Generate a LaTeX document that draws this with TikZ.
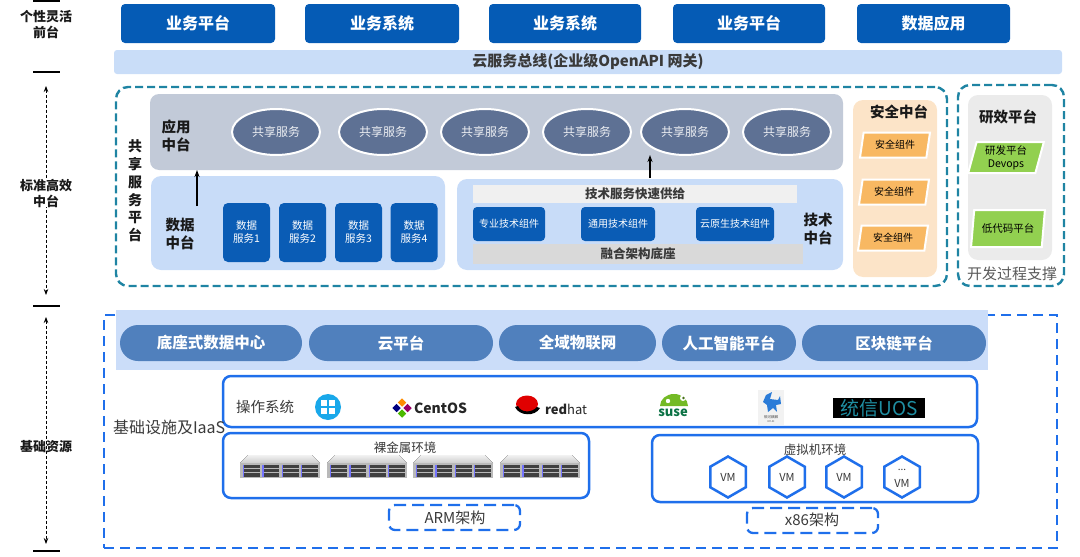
\documentclass[tikz,border=0pt]{standalone}
\usepackage{fontspec}
\setmainfont{Noto Sans CJK SC}
\usetikzlibrary{shapes.geometric,fit,arrows.meta,calc}
\newcommand\fsz[1]{\fontsize{#1}{#1}\selectfont}
\definecolor{dkblue}{HTML}{055BB5}
\definecolor{busblue}{HTML}{C9DDF8}
\definecolor{appgray}{HTML}{C2CAD8}
\definecolor{ellip}{HTML}{5E7194}
\definecolor{ltblue}{HTML}{C8DCF8}
\definecolor{compblue}{HTML}{0A5CB5}
\definecolor{tealc}{HTML}{1F84A3}
\definecolor{supgray}{HTML}{F0F0F0}
\definecolor{basegray}{HTML}{D9D9D9}
\definecolor{peach}{HTML}{FCE4C8}
\definecolor{orangec}{HTML}{F8B862}
\definecolor{rxgray}{HTML}{EBEBEB}
\definecolor{greenc}{HTML}{92D050}
\definecolor{botblue}{HTML}{1F6FEB}
\definecolor{bandc}{HTML}{CBDDF9}
\definecolor{pillc}{HTML}{5080BD}
\definecolor{txtgray}{HTML}{3A3A3A}
\definecolor{winblue}{HTML}{19A8EA}
\definecolor{rhred}{HTML}{E00000}
\definecolor{susegreen}{HTML}{73BA25}
\definecolor{susetext}{HTML}{0B7245}
\definecolor{uosteal}{HTML}{1F8FA3}
\definecolor{kyblue}{HTML}{2A7BD8}
\newcommand\server[1]{%
  \begin{scope}[shift={(#1,0)}]
    \fill[top color=gray!10, bottom color=gray!40] (8,455) -- (72,455) -- (80,463) -- (0,463) -- cycle;
    \fill[gray!55] (0,463) rectangle (80,478);
    \foreach \c in {0,1,2,3} \foreach \r in {0,1,2}
      \fill[black!75] (3+\c*19.3,464.5+\r*4.4) rectangle ++(17,3.3);
    \foreach \c in {0,1,2,3} \fill[blue!55] (3+\c*19.3,465) rectangle ++(1.4,12);
  \end{scope}}
\begin{document}
\begin{tikzpicture}[x=1pt,y=-1pt,
  every node/.style={inner sep=0pt,outer sep=0pt},
  topbox/.style={fill=dkblue,rounded corners=4pt,text=white,font=\fsz{16}\bfseries,minimum width=154pt,minimum height=39pt},
  lbl/.style={align=center,font=\fontsize{13}{16}\selectfont\bfseries,text=black!90},
  blbl/.style={align=center,font=\fontsize{14.5}{18}\selectfont\bfseries,text=black!90},
  ell/.style={ellipse,fill=ellip,draw=white,line width=2pt,minimum width=88pt,minimum height=46pt,text=white!88!ellip,font=\fsz{12}},
  dsvc/.style={fill=compblue,rounded corners=5pt,minimum width=47pt,minimum height=59pt,text=white,align=center,font=\fontsize{10.5}{13}\selectfont},
  comp/.style={fill=compblue,rounded corners=4pt,minimum height=34pt,text=white,font=\fsz{10}},
  par/.style={trapezium,trapezium left angle=76,trapezium right angle=104,trapezium stretches=true,draw=white,line width=2pt,align=center},
  pill/.style={fill=pillc,rounded corners=18pt,minimum height=36pt,text=white,font=\fsz{15.5}\bfseries},
  bluebox/.style={draw=botblue,line width=2.5pt,rounded corners=8pt,fill=white},
  dbox/.style={draw=botblue,line width=2.3pt,rounded corners=6pt,dash pattern=on 12pt off 6pt},
  hex/.style={regular polygon,regular polygon sides=6,shape border rotate=30,minimum size=41pt,draw=botblue,line width=2.5pt,fill=white,font=\fsz{11},text=txtgray},
  larr/.style={line width=0.8pt,dash pattern=on 3pt off 2pt,{Stealth[length=6pt,width=4.5pt]}-{Stealth[length=6pt,width=4.5pt]}},
  uparr/.style={line width=1.6pt,-{Stealth[length=7pt,width=5pt]}},
  tick/.style={line width=1.6pt}
]
\useasboundingbox (0,0) rectangle (1080,557);

% ---------- left axis ----------
\coordinate (k0a) at (33,1); \coordinate (k0b) at (60,1);
\coordinate (k1a) at (33,72); \coordinate (k1b) at (60,72);
\coordinate (k2a) at (33,306); \coordinate (k2b) at (60,306);
\coordinate (k3a) at (33,551); \coordinate (k3b) at (60,551);
\draw[tick] (k0a) -- (k0b);
\draw[tick] (k1a) -- (k1b);
\draw[tick] (k2a) -- (k2b);
\draw[tick] (k3a) -- (k3b);
\coordinate (a1t) at (46,86); \coordinate (a1b) at (46,295);
\coordinate (a2t) at (46,317); \coordinate (a2b) at (46,544);
\draw[larr] (a1t) -- (a1b);
\draw[larr] (a2t) -- (a2b);
\node[lbl] (lab1) at (46,25) {个性灵活\\前台};
\node[lbl,fill=white] (lab2) at (46,193) {标准高效\\中台};
\node[lbl] (lab3) at (46,447) {基础资源};

% ---------- top row ----------
\node[topbox] (t1) at (198,23.5) {业务平台};
\node[topbox] (t2) at (382,23.5) {业务系统};
\node[topbox,minimum width=152pt] (t3) at (565,23.5) {业务系统};
\node[topbox,minimum width=152pt] (t4) at (749,23.5) {业务平台};
\node[topbox,minimum width=153pt] (t5) at (933.5,23.5) {数据应用};

\node[fit={(114,50) (1062,74)},fill=busblue,rounded corners=3pt] (bus) {};
\node[font=\fsz{15}\bfseries,text=txtgray] (bust) at (588,62) {云服务总线(企业级OpenAPI 网关)};

% ---------- middle ----------
\node[fit={(116,87) (947,286)},draw=tealc,line width=2.4pt,dash pattern=on 8pt off 4pt,rounded corners=12pt] (mid) {};
\node[fit={(958,85) (1064,286)},draw=tealc,line width=2.4pt,dash pattern=on 8pt off 4pt,rounded corners=12pt] (rx) {};

\node[fit={(150,94) (843,170)},fill=appgray,rounded corners=9pt] (app) {};
\node[blbl] (appl) at (176,136) {应用\\中台};
\node[ell] (e1) at (276,132) {共享服务};
\node[ell] (e2) at (383,132) {共享服务};
\node[ell] (e3) at (485,132) {共享服务};
\node[ell] (e4) at (587,132) {共享服务};
\node[ell] (e5) at (685,132) {共享服务};
\node[ell] (e6) at (787,132) {共享服务};

\node[align=center,font=\fontsize{14}{17.8}\selectfont\bfseries,text=black!90] (gx) at (135,191) {共\\享\\服\\务\\平\\台};

\node[fit={(151,176) (445,270)},fill=ltblue,rounded corners=10pt] (data) {};
\node[blbl] (datal) at (180,234) {数据\\中台};
\node[dsvc] (d1) at (246.5,232.5) {数据\\服务1};
\node[dsvc] (d2) at (302.5,232.5) {数据\\服务2};
\node[dsvc] (d3) at (358.5,232.5) {数据\\服务3};
\node[dsvc] (d4) at (414,232.5) {数据\\服务4};

\node[fit={(457,179) (843,270)},fill=ltblue,rounded corners=10pt] (tech) {};
\node[fill=supgray,minimum width=324pt,minimum height=18pt,font=\fsz{12.5}\bfseries,text=txtgray] (sup) at (635,194) {技术服务快速供给};
\node[comp,minimum width=72pt] (c1) at (509,224) {专业技术组件};
\node[comp,minimum width=74pt] (c2) at (618,224) {通用技术组件};
\node[comp,minimum width=78pt] (c3) at (735,224) {云原生技术组件};
\node[fill=basegray,minimum width=330pt,minimum height=20pt,font=\fsz{12.5}\bfseries,text=txtgray] (base) at (638,254) {融合架构底座};
\node[blbl] (techl) at (818,229) {技术\\中台};

\coordinate (ar1) at (197,206);
\draw[uparr] (ar1) -- (ar1 |- app.south);
\coordinate (ar2) at (650,178);
\draw[uparr] (ar2) -- (ar2 |- e5.south);

\node[fit={(853,100) (937,277)},fill=peach,rounded corners=10pt] (sec) {};
\node[blbl] (secl) at (899,112) {安全中台};
\node[par,fill=orangec,minimum width=70pt,minimum height=25pt,font=\fsz{10}] (s1) at (895,145) {安全组件};
\node[par,fill=orangec,minimum width=70pt,minimum height=25pt,font=\fsz{10}] (s2) at (894,192) {安全组件};
\node[par,fill=orangec,minimum width=70pt,minimum height=25pt,font=\fsz{10}] (s3) at (893,238) {安全组件};

\node[fit={(968,95) (1052,260)},fill=rxgray,rounded corners=10pt] (rxin) {};
\node[blbl] (rxl) at (1008,117) {研效平台};
\node[par,fill=greenc,minimum width=76pt,minimum height=31pt,font=\fontsize{10.5}{13}\selectfont] (g1) at (1006,157.5) {研发平台\\Devops};
\node[par,fill=greenc,minimum width=74pt,minimum height=37pt,font=\fsz{10.5}] (g2) at (1008,228.5) {低代码平台};
\node[font=\fsz{15},text=black!65] (kf) at (1012,274) {开发过程支撑};

% ---------- bottom ----------
\node[fit={(104,315) (1057,548)},draw=botblue,line width=2.4pt,dash pattern=on 10pt off 6pt] (bot) {};
\node[fit={(116,310) (988,370)},fill=bandc] (band) {};
\node[pill,minimum width=182pt] (p1) at (211,343) {底座式数据中心};
\node[pill,minimum width=184pt] (p2) at (401,343) {云平台};
\node[pill,minimum width=157pt] (p3) at (577.5,343) {全域物联网};
\node[pill,minimum width=134pt] (p4) at (729,343) {人工智能平台};
\node[pill,minimum width=184pt] (p5) at (894,343) {区块链平台};

\node[fit={(223,376) (977,427)},bluebox] (os) {};
\node[font=\fsz{14.5},text=txtgray] (osl) at (265,407) {操作系统};

% windows
\node[circle,fill=winblue,minimum size=26pt] (win) at (328,407) {};
\fill[white] (321,400) rectangle (335,414);
\draw[winblue,line width=1.6pt] (328,399) -- (328,415) (320,407) -- (336,407);
% centos
\fill[orange!90!yellow,rotate around={45:(402,402.5)}] (399,399.5) rectangle (405,405.5);
\fill[violet!80!red,rotate around={45:(407.5,408)}] (404.5,405) rectangle (410.5,411);
\fill[green!60!black!70!yellow,rotate around={45:(402,413.5)}] (399,410.5) rectangle (405,416.5);
\fill[blue!50!black,rotate around={45:(396.5,408)}] (393.5,405) rectangle (399.5,411);
\node[anchor=west,font=\fsz{14}\bfseries,text=black!85] (centos) at (414,408) {CentOS};
% redhat
\fill[rhred] (527,404) ellipse (11 and 8.5);
\fill[black] (515,407) .. controls (519,416) and (535,417) .. (540,408) -- (537,407) .. controls (532,413) and (521,413) .. (518,406) -- cycle;
\node[anchor=west,font=\fsz{13},text=black!85] (redhat) at (545,409) {\textbf{red}hat};
% suse
\fill[susegreen] (660,406) arc (180:360:14 and 12) -- cycle;
\fill[white] (683,398) circle (3);
\fill[susegreen!60!black] (683.5,398) circle (1.4);
\fill[white] (668,401) circle (2.2);
\node[font=\fsz{13}\bfseries,text=susetext] (suse) at (673,413) {suse};
% kylin
\fill[gray!10] (758,390) rectangle (784,425);
\fill[kyblue] (766,395) -- (772,392) -- (770,399) -- (778,400) -- (780,396) -- (781,404) -- (776,405) -- (777,412) -- (773,408) -- (768,412) -- (767,405) -- (763,402) -- cycle;
\node[font=\fsz{3.5},text=black!70] (kyt) at (771,417) {银河麒麟};
\node[font=\fsz{2.5},text=black!70] (kyt2) at (771,421.5) {KYLIN};
% uos
\node[fill=black,minimum width=92pt,minimum height=20pt,text=uosteal,font=\fsz{19}] (uos) at (879,408) {统信UOS};

\node[anchor=west,font=\fsz{16},text=txtgray] (iaas) at (113,427) {基础设施及IaaS};

\node[fit={(223,433) (589,498)},bluebox] (bm) {};
\node[font=\fsz{12.5},text=txtgray] (bml) at (405,448) {裸金属环境};
\server{240}\server{327}\server{413}\server{500}

\node[fit={(389,505) (520,530)},dbox] (arm) {};
\node[font=\fsz{15},text=txtgray] (arml) at (455,518) {ARM架构};

\node[fit={(652,435) (978,502)},bluebox] (vmb) {};
\node[font=\fsz{12.5},text=txtgray] (vml) at (815,450) {虚拟机环境};
\node[hex] (v1) at (728,477) {VM};
\node[hex] (v2) at (787,477) {VM};
\node[hex] (v3) at (844,477) {VM};
\node[hex] (v4) at (902,477) {};
\node[font=\fsz{10},text=txtgray] (v4a) at (902,470) {...};
\node[font=\fsz{11},text=txtgray] (v4b) at (902,483) {VM};

\node[fit={(747,508) (878,533)},dbox] (x86) {};
\node[font=\fsz{15},text=txtgray] (x86l) at (812,520) {x86架构};
\end{tikzpicture}
\end{document}
